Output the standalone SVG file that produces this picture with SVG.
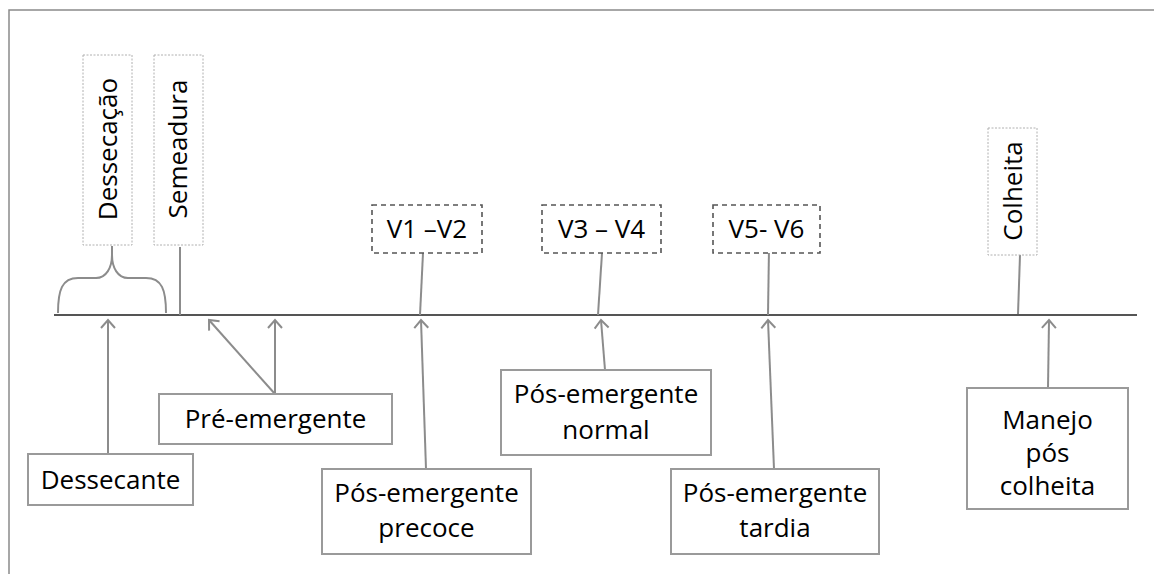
<svg xmlns="http://www.w3.org/2000/svg" width="1154" height="574" viewBox="0 0 1154 574">
  <defs>
    <marker id="arr" markerUnits="userSpaceOnUse" markerWidth="20" markerHeight="20" viewBox="-10 -10 20 20" refX="0" refY="0" orient="auto">
      <path d="M-8,-7 L0,0 L-8,7" fill="none" stroke="#8c8c8c" stroke-width="2"/>
    </marker>
    <style>
      .t { font-family: "Open Sans", "Liberation Sans", sans-serif; font-size: 26px; fill: #000; }
      .box { fill: #fff; stroke: #9a9a9a; stroke-width: 2; }
      .dash { fill: #fff; stroke: #555; stroke-width: 1.6; stroke-dasharray: 5 4; }
      .dot { fill: #fff; stroke: #b0b0b0; stroke-width: 1; stroke-dasharray: 2 1.5; }
      .ln { fill: none; stroke: #8c8c8c; stroke-width: 2; }
      .arw { fill: none; stroke: #8c8c8c; stroke-width: 2; marker-end: url(#arr); }
    </style>
  </defs>
  <rect width="1154" height="574" fill="#fff"/>
  <path d="M9,574 L9,10 L1154,10" fill="none" stroke="#8a8a8a" stroke-width="1.5"/>

  <g id="connectors">
    <line x1="54" y1="315" x2="1137" y2="315" stroke="#555" stroke-width="2"/>
    <path class="ln" d="M58,313 C58,290 62,278 78,278 L96,278 C106,278 112,268 112,255 L112,246 M112,255 C112,268 118,278 128,278 L146,278 C162,278 166,290 166,313"/>
    <line class="ln" x1="180" y1="247" x2="180" y2="315"/>
    <line class="ln" x1="423" y1="253" x2="420" y2="315"/>
    <line class="ln" x1="602" y1="253" x2="598" y2="315"/>
    <line class="ln" x1="769" y1="248" x2="768" y2="315"/>
    <line class="ln" x1="1020" y1="255" x2="1018" y2="314"/>
    <line class="arw" x1="108" y1="454" x2="108" y2="320"/>
    <line class="arw" x1="275" y1="394" x2="209" y2="320"/>
    <line class="arw" x1="275" y1="394" x2="275" y2="320"/>
    <line class="arw" x1="426" y1="469" x2="421" y2="320"/>
    <line class="arw" x1="605" y1="370" x2="601" y2="320"/>
    <line class="arw" x1="774" y1="469" x2="768" y2="320"/>
    <line class="arw" x1="1048" y1="388" x2="1049" y2="320"/>
  </g>

  <g id="dessecacao">
    <rect class="dot" x="83" y="55" width="49" height="190"/>
    <text class="t" transform="translate(117,149) rotate(-90)" text-anchor="middle">Dessecação</text>
  </g>
  <g id="semeadura">
    <rect class="dot" x="154" y="55" width="49" height="190"/>
    <text class="t" transform="translate(187,149) rotate(-90)" text-anchor="middle">Semeadura</text>
  </g>
  <g id="colheita">
    <rect class="dot" x="988" y="128" width="49" height="127"/>
    <text class="t" transform="translate(1022,191) rotate(-90)" text-anchor="middle">Colheita</text>
  </g>
  <g id="v1v2">
    <rect class="dash" x="372" y="205" width="110" height="48"/>
    <text class="t" x="427" y="238" text-anchor="middle">V1 –V2</text>
  </g>
  <g id="v3v4">
    <rect class="dash" x="542" y="205" width="119" height="48"/>
    <text class="t" x="601.5" y="238" text-anchor="middle">V3 – V4</text>
  </g>
  <g id="v5v6">
    <rect class="dash" x="713" y="205" width="107" height="48"/>
    <text class="t" x="766.5" y="238" text-anchor="middle">V5- V6</text>
  </g>
  <g id="dessecante">
    <rect class="box" x="28" y="454" width="165" height="51"/>
    <text class="t" x="110.5" y="489" text-anchor="middle">Dessecante</text>
  </g>
  <g id="pre-emergente">
    <rect class="box" x="159" y="394" width="233" height="50"/>
    <text class="t" x="275.5" y="428" text-anchor="middle">Pré-emergente</text>
  </g>
  <g id="pos-precoce">
    <rect class="box" x="322" y="469" width="209" height="85"/>
    <text class="t" x="426.5" y="502" text-anchor="middle">Pós-emergente</text>
    <text class="t" x="426.5" y="537" text-anchor="middle">precoce</text>
  </g>
  <g id="pos-normal">
    <rect class="box" x="501" y="370" width="210" height="85"/>
    <text class="t" x="606" y="403" text-anchor="middle">Pós-emergente</text>
    <text class="t" x="606" y="439" text-anchor="middle">normal</text>
  </g>
  <g id="pos-tardia">
    <rect class="box" x="671" y="469" width="208" height="85"/>
    <text class="t" x="775" y="502" text-anchor="middle">Pós-emergente</text>
    <text class="t" x="775" y="537" text-anchor="middle">tardia</text>
  </g>
  <g id="manejo">
    <rect class="box" x="967" y="388" width="161" height="121"/>
    <text class="t" x="1047.5" y="429" text-anchor="middle">Manejo</text>
    <text class="t" x="1047.5" y="462" text-anchor="middle">pós</text>
    <text class="t" x="1047.5" y="495" text-anchor="middle">colheita</text>
  </g>
</svg>
